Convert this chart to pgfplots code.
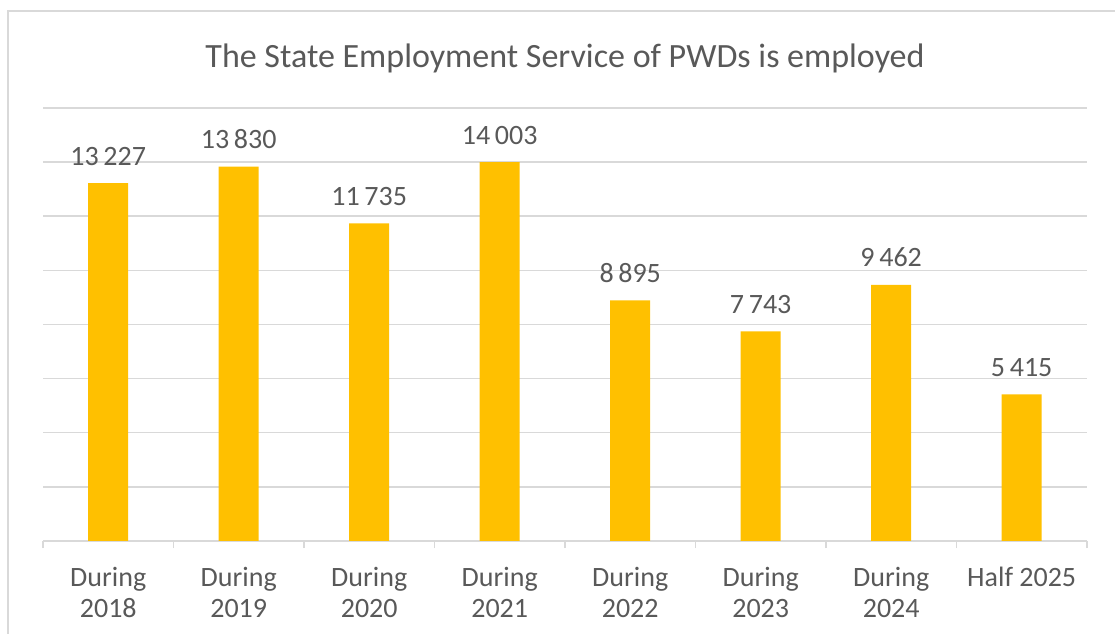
\documentclass[border=0pt]{standalone}
\usepackage{pgfplots}
\pgfplotsset{compat=1.18}
\usepackage{fontspec}
\setmainfont{Carlito}
\definecolor{txt}{HTML}{595959}
\definecolor{gridc}{HTML}{D9D9D9}
\definecolor{bar}{HTML}{FFC000}

\begin{document}
\begin{tikzpicture}
\useasboundingbox (0,0) rectangle (1115bp,634bp);
% chart area border (left and top only visible)
\draw[gridc, line width=1.5bp] (8bp,0) -- (8bp,623bp) -- (1115bp,623bp);
\node[txt, font=\fontsize{34bp}{40bp}\selectfont] at (565bp,576bp) {The State Employment Service of PWDs is employed};

\begin{axis}[
    at={(43bp,93bp)}, anchor=south west,
    scale only axis,
    width=1044bp, height=433bp,
    ybar, bar width=40bp,
    xmin=-0.5, xmax=7.5,
    ymin=0, ymax=16000,
    ytick={0,2000,...,16000}, yticklabels={},
    scaled y ticks=false,
    ymajorgrids, grid style={gridc, line width=1.5bp},
    axis x line*=bottom,
    axis y line*=left,
    y axis line style={draw=none},
    x axis line style={gridc, line width=1.5bp, -},
    xtick={0,...,7},
    xticklabels={{During\\2018},{During\\2019},{During\\2020},{During\\2021},{During\\2022},{During\\2023},{During\\2024},{Half 2025}},
    major tick length=0pt,
    minor xtick={-0.5,0.5,...,7.5},
    minor tick length=7bp,
    tick align=outside,
    minor tick style={gridc, line width=1.5bp},
    xticklabel style={txt, font=\fontsize{28bp}{31bp}\selectfont, align=center, anchor=north, yshift=-23bp},
    nodes near coords={\pgfmathprintnumber[1000 sep={\,}, assume math mode=true]{\pgfplotspointmeta}},
    every node near coord/.append style={txt, font=\fontsize{28bp}{31bp}\selectfont, anchor=base, yshift=18bp},
]
\addplot[fill=bar, draw=none] coordinates {
    (0,13227) (1,13830) (2,11735) (3,14003)
    (4,8895) (5,7743) (6,9462) (7,5415)
};
\end{axis}
\end{tikzpicture}
\end{document}
